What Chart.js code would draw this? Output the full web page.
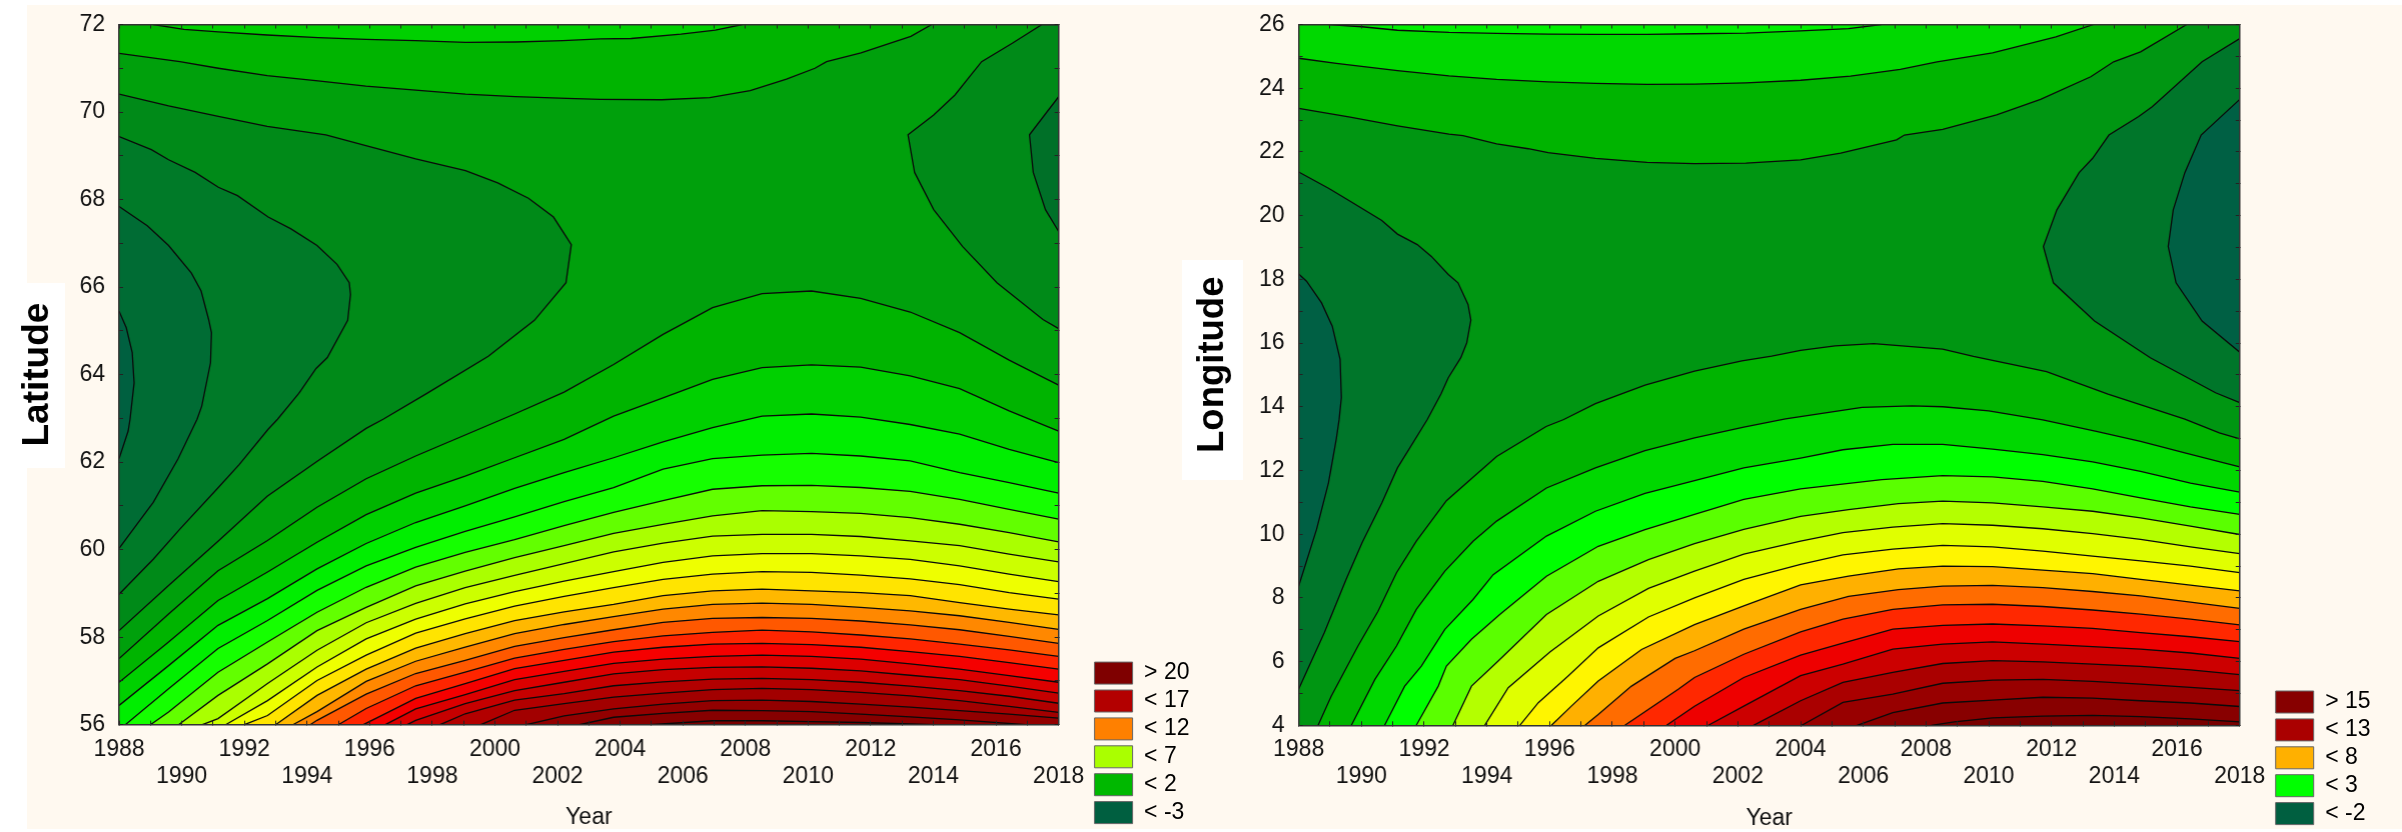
<!DOCTYPE html>
<html>
<head>
<meta charset="utf-8">
<title>Latitude and longitude contour plots</title>
<script src="https://cdn.jsdelivr.net/npm/chart.js@4"></script>
<style>
    body { margin: 0; background: #fff; overflow: hidden; }
    #sheet { position: absolute; left: 27px; top: 5px; width: 2375px; height: 824px; background: #fff9f0; }
    .label-bg { position: absolute; background: #fff; }
    canvas { position: absolute; top: 0; }
</style>
</head>
<body>
<div id="sheet"></div>
<div class="label-bg" style="left:27px;top:283px;width:38px;height:185px"></div>
<div class="label-bg" style="left:1182px;top:260px;width:61px;height:220px"></div>
<canvas id="latChart" style="left:0"></canvas>
<canvas id="lonChart" style="left:1181px"></canvas>
<script>
// Contour lines, each one as [year, degrees]
const latTop1 = [[1988,71.34],[1989.94,71.15],[1991.17,71],[1992.73,70.83],[1994.35,70.71],[1995.88,70.59],[1997.47,70.5],[1999.06,70.41],[2000.65,70.35],[2002.3,70.31],[2003.37,70.29],[2005.33,70.28],[2006.86,70.33],[2008.15,70.49],[2009.31,70.75],[2010.22,71],[2010.59,71.15],[2011.69,71.35],[2013.28,71.73],[2013.95,72]];
const latTop2 = [[1989.09,72],[1990.07,71.89],[1991.17,71.83],[1992.73,71.76],[1994.35,71.7],[1995.88,71.66],[1997.47,71.63],[1999.06,71.59],[2000.65,71.6],[2002.17,71.63],[2003.37,71.67],[2004.35,71.68],[2005.94,71.78],[2007.04,71.87],[2007.9,72]];
const latBlobC = [[1988,70.41],[1989.58,70.14],[1991.17,69.9],[1992.73,69.67],[1994.6,69.48],[1995.88,69.23],[1997.47,68.93],[1999.06,68.66],[2000.09,68.38],[2001.07,68.03],[2001.87,67.6],[2002.44,66.97],[2002.27,66.1],[2001.26,65.24],[1999.79,64.42],[1997.83,63.57],[1996.43,62.98],[1995.89,62.77],[1994.35,62.03],[1992.73,61.22],[1991.17,60.2],[1989.58,59.18],[1988,58.15]];
const latBlobB = [[1988,69.44],[1989.03,69.14],[1989.58,68.91],[1990.43,68.62],[1991.17,68.28],[1991.78,68.09],[1992.76,67.6],[1993.49,67.33],[1994.32,66.95],[1994.96,66.52],[1995.35,66.1],[1995.39,65.83],[1995.3,65.24],[1994.65,64.39],[1994.29,64.14],[1993.74,63.57],[1993.06,62.98],[1992.76,62.75],[1991.84,61.95],[1991.17,61.42],[1989.94,60.47],[1989.09,59.78],[1988,58.98]];
const latBlobA = [[1988,67.84],[1988.9,67.4],[1989.58,66.95],[1990.31,66.32],[1990.62,65.91],[1990.86,65.26],[1990.95,64.96],[1990.92,64.27],[1990.64,63.28],[1990.49,62.98],[1989.88,62.07],[1989.09,61.08],[1988,60.03]];
const latBlobD = [[1988,65.45],[1988.23,65.07],[1988.42,64.5],[1988.48,63.81],[1988.35,62.98],[1988.29,62.71],[1988,62.08]];
const latEast1 = [[2018,72],[2017.47,72],[2016.52,71.57],[2015.54,71.15],[2014.69,70.39],[2014.01,69.93],[2013.19,69.48],[2013.4,68.62],[2014.01,67.77],[2014.93,66.93],[2016.03,66.1],[2017.5,65.26],[2018,65.05]];
const latEast2 = [[2018,70.35],[2017.07,69.48],[2017.19,68.62],[2017.58,67.77],[2018,67.27]];

const latLow01 = [[1988,57.51],[1989.58,58.53],[1991.16,59.52],[1992.74,60.21],[1994.32,60.97],[1995.89,61.62],[1997.47,62.14],[1999.05,62.62],[2000.63,63.1],[2002.21,63.6],[2003.79,64.23],[2005.37,64.92],[2006.95,65.53],[2008.53,65.85],[2010.11,65.91],[2011.68,65.74],[2013.26,65.43],[2014.84,64.96],[2016.42,64.33],[2018,63.76]];
const latLow02 = [[1988,56.97],[1989.58,57.89],[1991.16,58.84],[1992.74,59.49],[1994.32,60.17],[1995.89,60.8],[1997.47,61.29],[1999.05,61.68],[2000.63,62.1],[2002.21,62.52],[2003.79,63.05],[2005.37,63.47],[2006.95,63.89],[2008.53,64.16],[2010.11,64.22],[2011.68,64.17],[2013.26,63.97],[2014.84,63.68],[2016.42,63.17],[2018,62.71]];
const latLow03 = [[1988,56.44],[1989.58,57.35],[1991.16,58.27],[1992.74,58.88],[1994.32,59.56],[1995.89,60.14],[1997.47,60.62],[1999.05,61],[2000.63,61.4],[2002.21,61.76],[2003.79,62.1],[2005.37,62.46],[2006.95,62.79],[2008.53,63.05],[2010.11,63.1],[2011.68,63.03],[2013.26,62.86],[2014.84,62.64],[2016.42,62.29],[2018,61.99]];
const latLow04 = [[1988.2,56],[1989.58,56.82],[1991.16,57.74],[1992.74,58.38],[1994.32,59.07],[1995.89,59.63],[1997.47,60.05],[1999.05,60.42],[2000.63,60.75],[2002.21,61.1],[2003.79,61.42],[2005.37,61.84],[2006.95,62.08],[2008.53,62.16],[2010.11,62.2],[2011.68,62.14],[2013.26,62.03],[2014.84,61.76],[2016.42,61.53],[2018,61.29]];
const latLow05 = [[1989,56],[1989.58,56.29],[1991.16,57.2],[1992.74,57.89],[1994.32,58.57],[1995.89,59.14],[1997.47,59.6],[1999.05,59.94],[2000.63,60.23],[2002.21,60.55],[2003.79,60.85],[2005.37,61.12],[2006.95,61.38],[2008.53,61.46],[2010.11,61.47],[2011.68,61.42],[2013.26,61.33],[2014.84,61.15],[2016.42,60.92],[2018,60.7]];
const latLow06 = [[1989.9,56],[1991.16,56.67],[1992.74,57.39],[1994.32,58.15],[1995.89,58.68],[1997.47,59.17],[1999.05,59.51],[2000.63,59.82],[2002.21,60.09],[2003.79,60.37],[2005.37,60.58],[2006.95,60.77],[2008.53,60.89],[2010.11,60.87],[2011.68,60.83],[2013.26,60.73],[2014.84,60.58],[2016.42,60.39],[2018,60.18]];
const latLow07 = [[1990.66,56],[1991.16,56.14],[1992.74,56.94],[1994.32,57.7],[1995.89,58.33],[1997.47,58.77],[1999.05,59.13],[2000.63,59.41],[2002.21,59.68],[2003.79,59.95],[2005.37,60.15],[2006.95,60.31],[2008.53,60.35],[2010.11,60.35],[2011.68,60.3],[2013.26,60.2],[2014.84,60.09],[2016.42,59.9],[2018,59.72]];
const latLow08 = [[1991.4,56],[1992.74,56.55],[1994.32,57.32],[1995.89,57.96],[1997.47,58.41],[1999.05,58.76],[2000.63,59.04],[2002.21,59.28],[2003.79,59.5],[2005.37,59.71],[2006.95,59.86],[2008.53,59.91],[2010.11,59.91],[2011.68,59.86],[2013.26,59.78],[2014.84,59.63],[2016.42,59.44],[2018,59.27]];
const latLow09 = [[1992,56],[1992.74,56.21],[1994.32,57.01],[1995.89,57.59],[1997.47,58.09],[1999.05,58.42],[2000.63,58.71],[2002.21,58.93],[2003.79,59.13],[2005.37,59.32],[2006.95,59.44],[2008.53,59.5],[2010.11,59.48],[2011.68,59.42],[2013.26,59.33],[2014.84,59.2],[2016.42,59.02],[2018,58.87]];
const latLow10 = [[1993,56],[1994.32,56.67],[1995.89,57.27],[1997.47,57.75],[1999.05,58.08],[2000.63,58.38],[2002.21,58.58],[2003.79,58.75],[2005.37,58.95],[2006.95,59.06],[2008.53,59.1],[2010.11,59.06],[2011.68,59.02],[2013.26,58.95],[2014.84,58.79],[2016.42,58.64],[2018,58.51]];
const latLow11 = [[1993.55,56],[1994.32,56.3],[1995.89,56.99],[1997.47,57.45],[1999.05,57.77],[2000.63,58.08],[2002.21,58.29],[2003.79,58.47],[2005.37,58.64],[2006.95,58.75],[2008.53,58.78],[2010.11,58.75],[2011.68,58.68],[2013.26,58.6],[2014.84,58.49],[2016.42,58.34],[2018,58.18]];
const latLow12 = [[1994.1,56],[1994.32,56.1],[1995.89,56.7],[1997.47,57.17],[1999.05,57.47],[2000.63,57.79],[2002.21,57.99],[2003.79,58.17],[2005.37,58.34],[2006.95,58.43],[2008.53,58.45],[2010.11,58.43],[2011.68,58.37],[2013.26,58.28],[2014.84,58.17],[2016.42,58.02],[2018,57.86]];
const latLow13 = [[1995,56],[1995.89,56.37],[1997.47,56.89],[1999.05,57.2],[2000.63,57.52],[2002.21,57.72],[2003.79,57.9],[2005.37,58.03],[2006.95,58.11],[2008.53,58.16],[2010.11,58.12],[2011.68,58.05],[2013.26,57.96],[2014.84,57.84],[2016.42,57.71],[2018,57.56]];
const latLow14 = [[1995.8,56],[1997.47,56.6],[1999.05,56.94],[2000.63,57.28],[2002.21,57.47],[2003.79,57.66],[2005.37,57.77],[2006.95,57.84],[2008.53,57.86],[2010.11,57.83],[2011.68,57.77],[2013.26,57.67],[2014.84,57.56],[2016.42,57.42],[2018,57.27]];
const latLow15 = [[1996.5,56],[1997.47,56.36],[1999.05,56.69],[2000.63,57.03],[2002.21,57.22],[2003.79,57.4],[2005.37,57.5],[2006.95,57.56],[2008.53,57.59],[2010.11,57.56],[2011.68,57.5],[2013.26,57.39],[2014.84,57.27],[2016.42,57.12],[2018,56.97]];
const latLow16 = [[1997.2,56],[1997.47,56.1],[1999.05,56.48],[2000.63,56.78],[2002.21,56.97],[2003.79,57.16],[2005.37,57.26],[2006.95,57.31],[2008.53,57.32],[2010.11,57.29],[2011.68,57.23],[2013.26,57.13],[2014.84,57.03],[2016.42,56.88],[2018,56.72]];
const latLow17 = [[1998.25,56],[1999.05,56.25],[2000.63,56.56],[2002.21,56.71],[2003.79,56.89],[2005.37,56.98],[2006.95,57.04],[2008.53,57.06],[2010.11,57.03],[2011.68,56.97],[2013.26,56.88],[2014.84,56.78],[2016.42,56.65],[2018,56.49]];
const latLow18 = [[1999.55,56],[2000.63,56.33],[2002.21,56.48],[2003.79,56.63],[2005.37,56.72],[2006.95,56.8],[2008.53,56.83],[2010.11,56.8],[2011.68,56.74],[2013.26,56.66],[2014.84,56.55],[2016.42,56.42],[2018,56.28]];
const latLow19 = [[2001,56],[2002.21,56.2],[2003.79,56.36],[2005.37,56.47],[2006.95,56.55],[2008.53,56.56],[2010.11,56.53],[2011.68,56.47],[2013.26,56.4],[2014.84,56.32],[2016.42,56.24],[2018,56.15]];
const latLow20 = [[2002.7,56],[2003.79,56.17],[2005.37,56.26],[2006.95,56.33],[2008.53,56.32],[2010.11,56.3],[2011.68,56.24],[2013.26,56.18],[2014.84,56.11],[2016.95,56]];
const latLow21 = [[2004.96,56],[2006.95,56.09],[2008.53,56.09],[2010.11,56.07],[2011.68,56.05],[2013.26,56.02],[2014,56]];

const lonTop1 = [[1988,23.37],[1989.64,23.09],[1991.15,22.82],[1992.79,22.56],[1993.24,22.51],[1994.31,22.25],[1995.32,22.1],[1995.95,21.98],[1997.46,21.8],[1999.1,21.67],[2000.62,21.63],[2002.26,21.65],[2004,21.75],[2005.28,21.96],[2007.06,22.38],[2007.31,22.53],[2008.53,22.71],[2010.25,23.16],[2011.65,23.65],[2013.25,24.36],[2013.98,24.83],[2014.84,25.14],[2016.31,26]];
const lonTop2 = [[1988,24.94],[1989.2,24.78],[1991.15,24.55],[1992.79,24.39],[1994.31,24.28],[1995.95,24.2],[1997.46,24.15],[1999.1,24.12],[2000.62,24.13],[2002.26,24.17],[2004,24.25],[2005.59,24.38],[2007.18,24.59],[2008.35,24.83],[2010.12,25.11],[2012.14,25.61],[2013.34,26]];
const lonTop3 = [[1988.95,26],[1990.02,25.93],[1991.15,25.82],[1992.79,25.75],[1994.31,25.72],[1995.95,25.7],[1997.46,25.69],[1999.1,25.69],[2000.62,25.71],[2002.26,25.73],[2004,25.8],[2005.53,25.87],[2006.57,26]];
const lonBlobA = [[1988,21.37],[1988.95,20.86],[1989.64,20.45],[1990.65,19.85],[1991.15,19.42],[1991.78,19.09],[1992.23,18.72],[1992.77,18.15],[1993.08,17.89],[1993.4,17.21],[1993.49,16.72],[1993.36,16.01],[1993.17,15.54],[1992.77,14.91],[1992.54,14.41],[1992.1,13.6],[1991.15,12.08],[1990.65,10.98],[1990.02,9.73],[1989.51,8.58],[1988.82,6.91],[1988,5.14]];
const lonBlobB = [[1988,18.17],[1988.25,17.94],[1988.73,17.26],[1989.07,16.53],[1989.32,15.49],[1989.36,14.29],[1989.29,13.61],[1989.2,13],[1988.95,11.61],[1988.57,10.15],[1988,8.37]];
const lonEast1 = [[2018,25.56],[2016.8,24.83],[2015.21,23.42],[2014.78,23.11],[2013.83,22.53],[2013.31,21.8],[2012.88,21.35],[2012.17,20.18],[2011.74,19.03],[2012.06,17.89],[2013.37,16.69],[2015.15,15.54],[2017.23,14.44],[2018,14.13]];
const lonEast2 = [[2018,23.65],[2016.77,22.53],[2016.25,21.35],[2015.88,20.18],[2015.72,19.03],[2015.97,17.89],[2016.8,16.69],[2018,15.71]];

const lonLow01 = [[1988.62,4],[1989.04,4.92],[1989.89,6.49],[1990.53,7.58],[1991.12,8.79],[1991.75,9.78],[1992.71,11.05],[1994.31,12.44],[1995.89,13.38],[1996.45,13.6],[1997.46,14.1],[1999.04,14.68],[2000.62,15.12],[2002.13,15.44],[2003.08,15.59],[2004,15.77],[2005.1,15.91],[2006.33,15.98],[2008.53,15.81],[2009.51,15.58],[2011.84,15.1],[2013.8,14.4],[2016.25,13.61],[2017.35,13.18],[2018,12.99]];
const lonLow02 = [[1989.68,4],[1990.43,5.44],[1991.12,6.49],[1991.75,7.64],[1992.66,8.84],[1993.56,9.78],[1994.31,10.41],[1995.9,11.45],[1997.46,12.08],[1999.04,12.62],[2000.62,13.02],[2002.19,13.36],[2003.52,13.62],[2005.96,13.98],[2007.55,14.03],[2008.53,14],[2010,13.87],[2011.72,13.59],[2013.43,13.23],[2014.84,12.91],[2016.25,12.55],[2018,12.11]];
const lonLow03 = [[1990.74,4],[1991.38,5.23],[1991.91,5.86],[1992.66,7.01],[1993.56,7.95],[1994.2,8.73],[1995.9,9.94],[1997.46,10.72],[1999.04,11.28],[2000.62,11.68],[2002.19,12.08],[2004,12.39],[2005.35,12.65],[2006.94,12.82],[2008.53,12.82],[2010.12,12.67],[2011.72,12.5],[2013.31,12.27],[2014.84,11.97],[2016.43,11.6],[2018,11.32]];
const lonLow04 = [[1991.75,4],[1992.45,5.23],[1992.71,5.86],[1993.51,6.7],[1994.41,7.48],[1995.9,8.68],[1997.55,9.62],[1999.04,10.14],[2000.62,10.62],[2002.19,11.09],[2004,11.42],[2006.59,11.71],[2008.53,11.84],[2010.12,11.8],[2011.72,11.66],[2013.31,11.42],[2014.84,11.14],[2016.43,10.86],[2018,10.62]];
const lonLow05 = [[1992.92,4],[1993.51,5.23],[1994.36,6.02],[1995.9,7.48],[1997.55,8.52],[1999.15,9.2],[2000.62,9.7],[2002.19,10.15],[2004,10.56],[2005.53,10.77],[2007.12,10.96],[2008.53,11.04],[2010.12,10.98],[2011.72,10.86],[2013.31,10.72],[2014.84,10.51],[2016.43,10.25],[2018,9.99]];
const lonLow06 = [[1993.93,4],[1994.68,5.18],[1996.01,6.3],[1997.55,7.43],[1999.15,8.3],[2000.62,8.84],[2002.19,9.37],[2004,9.78],[2005.35,10.05],[2006.94,10.22],[2008.53,10.33],[2010.12,10.28],[2011.72,10.17],[2013.31,10.02],[2014.84,9.84],[2016.43,9.6],[2018,9.39]];
const lonLow07 = [[1995.05,4],[1995.64,4.71],[1996.59,5.55],[1997.55,6.43],[1999.15,7.4],[2000.62,8],[2002.19,8.58],[2004,9.05],[2005.35,9.35],[2006.94,9.53],[2008.53,9.65],[2010.12,9.6],[2011.72,9.47],[2013.31,9.31],[2014.84,9.16],[2016.43,9],[2018,8.79]];
const lonLow08 = [[1996.06,4],[1996.7,4.61],[1997.55,5.39],[1998.93,6.38],[2000.62,7.16],[2002.19,7.75],[2004,8.41],[2005.53,8.68],[2007.12,8.91],[2008.53,9],[2010.12,8.98],[2011.72,8.87],[2013.31,8.76],[2014.84,8.58],[2016.43,8.4],[2018,8.22]];
const lonLow09 = [[1997.13,4],[1997.55,4.34],[1998.61,5.23],[2000,6.1],[2000.62,6.34],[2002.19,7.02],[2004,7.64],[2005.53,8.05],[2007.12,8.26],[2008.53,8.37],[2010.12,8.39],[2011.72,8.32],[2013.31,8.2],[2014.84,8.06],[2016.43,7.87],[2018,7.67]];
const lonLow10 = [[1998.4,4],[2000.1,5.13],[2000.62,5.5],[2002.19,6.23],[2004,6.93],[2005.35,7.33],[2006.94,7.64],[2008.53,7.78],[2010.12,7.8],[2011.72,7.73],[2013.31,7.62],[2014.84,7.49],[2016.43,7.33],[2018,7.15]];
const lonLow11 = [[1999.73,4],[2000.62,4.6],[2002.19,5.5],[2004,6.2],[2005.35,6.58],[2006.94,7.02],[2008.53,7.14],[2010.12,7.18],[2011.72,7.12],[2013.31,7.04],[2014.84,6.91],[2016.43,6.78],[2018,6.63]];
const lonLow12 = [[2001.06,4],[2002.19,4.6],[2004,5.56],[2005.35,5.92],[2006.94,6.39],[2008.53,6.55],[2010.12,6.62],[2011.72,6.55],[2013.31,6.47],[2014.84,6.39],[2016.43,6.27],[2018,6.1]];
const lonLow13 = [[2002.5,4],[2004,4.77],[2005.35,5.35],[2006.94,5.66],[2008.53,5.94],[2010.12,6.03],[2011.72,5.99],[2013.31,5.92],[2014.84,5.85],[2016.43,5.74],[2018,5.59]];
const lonLow14 = [[2004.04,4],[2005.35,4.72],[2006.94,4.98],[2008.53,5.32],[2010.12,5.42],[2011.72,5.44],[2013.31,5.38],[2014.84,5.29],[2016.43,5.19],[2018,5.09]];
const lonLow15 = [[2005.8,4],[2006.94,4.4],[2008.53,4.7],[2010.12,4.79],[2011.72,4.88],[2013.31,4.85],[2014.84,4.77],[2016.43,4.7],[2018,4.59]];
const lonLow16 = [[2008.17,4],[2008.9,4.11],[2010.12,4.23],[2011.72,4.29],[2013.31,4.31],[2014.84,4.27],[2016.43,4.2],[2018,4.11]];

const latLegendLabels = ['> 20', '< 17', '< 12', '< 7', '< 2', '< -3'];
const latLegendColors = ['#7f0000', '#b30000', '#ff8000', '#aaff00', '#00b800', '#005f40'];
const lonLegendLabels = ['> 15', '< 13', '< 8', '< 3', '< -2'];
const lonLegendColors = ['#870000', '#aa0000', '#ffb000', '#00ff00', '#005f40'];

const latLowLines = [latLow01, latLow02, latLow03, latLow04, latLow05, latLow06, latLow07, latLow08, latLow09, latLow10, latLow11, latLow12, latLow13, latLow14, latLow15, latLow16, latLow17, latLow18, latLow19, latLow20, latLow21];
const latLowColors = ['#00b400', '#00d000', '#00ee00', '#15ff00', '#62ff00', '#aaff00', '#ccff00', '#eeff00', '#ffe400', '#ffb800', '#ff8800', '#ff5800', '#ff2500', '#f50000', '#dc0000', '#c60000', '#b20000', '#a20000', '#920000', '#860000', '#7a0000'];
const lonLowLines = [lonLow01, lonLow02, lonLow03, lonLow04, lonLow05, lonLow06, lonLow07, lonLow08, lonLow09, lonLow10, lonLow11, lonLow12, lonLow13, lonLow14, lonLow15, lonLow16];
const lonLowColors = ['#00b400', '#00d800', '#00ff00', '#5aff00', '#b4ff00', '#e0ff00', '#fff500', '#ffb000', '#ff6c00', '#ff2800', '#ee0000', '#cc0000', '#aa0000', '#980000', '#880000', '#780000'];

Chart.defaults.font.family = '"Liberation Sans", Arial, sans-serif';
Chart.defaults.color = '#111';

// one contour: a black line plus the colour on its far side
function contour(points, color, fill) {
    return {
        data: points.map(p => ({ x: p[0], y: p[1] })),
        showLine: true,
        pointRadius: 0,
        borderColor: '#0a0a0a',
        borderWidth: 1.3,
        backgroundColor: color,
        fill: fill
    };
}

// inward tick marks, drawn over the colour
function tickGrid() {
    return { drawOnChartArea: false, tickLength: -4, color: '#222', z: 1 };
}

function makePanel(cfg) {
    const lines = [];
    cfg.lowLines.forEach((l, i) => lines.push(contour(l, cfg.lowColors[i], { target: { value: cfg.min } })));
    cfg.topLines.forEach((l, i) => lines.push(contour(l, cfg.topColors[i], { target: { value: cfg.max } })));
    cfg.blobs.forEach((l, i) => lines.push(contour(l, cfg.blobColors[i], 'shape')));
    // later bands have to paint over earlier ones
    lines.forEach((d, i) => { d.order = lines.length - i; });

    const canvas = document.getElementById(cfg.id);
    canvas.width = cfg.width;
    canvas.height = cfg.height;

    const chart = new Chart(canvas, {
        type: 'scatter',
        data: { datasets: lines },
        plugins: [{
            id: 'plotBase',
            beforeDatasetsDraw(c) {
                const a = c.chartArea;
                c.ctx.save();
                c.ctx.fillStyle = cfg.baseColor;
                c.ctx.fillRect(a.left, a.top, a.right - a.left, a.bottom - a.top);
                c.ctx.restore();
            }
        }],
        options: {
            responsive: false,
            animation: false,
            events: [],
            layout: { autoPadding: false },
            plugins: {
                tooltip: { enabled: false },
                legend: {
                    position: 'right',
                    align: 'end',
                    labels: {
                        boxWidth: 38,
                        boxHeight: 22,
                        padding: 4.9,
                        color: '#111',
                        font: { size: 23 },
                        generateLabels: () => cfg.legendLabels.map((t, i) => ({
                            text: t, fillStyle: cfg.legendColors[i], strokeStyle: '#666', lineWidth: 1, hidden: false
                        }))
                    }
                }
            },
            scales: {
                x: {
                    type: 'linear', min: 1988, max: 2018,
                    afterFit: s => { s.height = cfg.height - cfg.plotBottom; },
                    grid: tickGrid(),
                    border: { color: '#333', width: 1.5, z: 1 },
                    title: { display: true, text: 'Year', color: '#111', padding: 0, font: { size: 23, lineHeight: 1 } },
                    ticks: {
                        stepSize: 1, autoSkip: false, maxRotation: 0, padding: 15,
                        font: { size: 23, lineHeight: '27px' }, color: '#111',
                        // two staggered rows of year labels
                        callback: v => v % 4 === 0 ? String(v) : (v % 2 === 0 ? ['', String(v)] : '')
                    }
                },
                x2: {
                    type: 'linear', position: 'top', min: 1988, max: 2018,
                    afterFit: s => { s.height = cfg.plotTop; },
                    grid: tickGrid(),
                    border: { color: '#333', width: 1.5, z: 1 },
                    ticks: { stepSize: 1, autoSkip: false, display: false }
                },
                y: {
                    type: 'linear', min: cfg.min, max: cfg.max,
                    // no extra room above for the top label, the plot edge is set by x2
                    afterFit: s => { s.width = cfg.plotLeft; s.paddingTop = 0; s.paddingBottom = 0; },
                    grid: tickGrid(),
                    border: { color: '#333', width: 1.5, z: 1 },
                    title: { display: true, text: cfg.yTitle, color: '#000', padding: { top: cfg.yTitlePad, bottom: 0 }, font: { size: cfg.yTitleSize, weight: 'bold' } },
                    ticks: {
                        stepSize: 1, autoSkip: false, padding: 18,
                        font: { size: 23 }, color: '#111',
                        callback: v => v % 2 === 0 ? String(v) : ''
                    }
                },
                y2: {
                    type: 'linear', position: 'right', min: cfg.min, max: cfg.max,
                    afterFit: s => { s.width = 31; },
                    grid: tickGrid(),
                    border: { color: '#333', width: 1.5, z: 1 },
                    ticks: { stepSize: 1, autoSkip: false, display: false }
                }
            }
        }
    });

    // legend width depends on its text, so fix the plot edge afterwards
    chart.resize(cfg.width + cfg.plotRight - chart.chartArea.right, cfg.height);
    return chart;
}

makePanel({
    id: 'latChart', width: 1200, height: 830,
    plotLeft: 119, plotRight: 1057.7, plotTop: 24.5, plotBottom: 725.7,
    min: 56, max: 72, yTitle: 'Latitude', yTitleSize: 37, yTitlePad: 16, baseColor: '#00a00c',
    lowLines: latLowLines, lowColors: latLowColors,
    topLines: [latTop1, latTop2], topColors: ['#00b400', '#00d000'],
    blobs: [latBlobC, latBlobB, latBlobA, latBlobD, latEast1, latEast2],
    blobColors: ['#008a18', '#007a28', '#006c34', '#006040', '#008a18', '#007028'],
    legendLabels: latLegendLabels, legendColors: latLegendColors
});

makePanel({
    id: 'lonChart', width: 1200, height: 831,
    plotLeft: 117.6, plotRight: 1057.8, plotTop: 24.5, plotBottom: 726.3,
    min: 4, max: 26, yTitle: '  Longitude', yTitleSize: 36.5, yTitlePad: 10, baseColor: '#009612',
    lowLines: lonLowLines, lowColors: lonLowColors,
    topLines: [lonTop1, lonTop2, lonTop3], topColors: ['#00b400', '#00d800', '#00f000'],
    blobs: [lonBlobA, lonBlobB, lonEast1, lonEast2],
    blobColors: ['#00762a', '#006044', '#00762a', '#006044'],
    legendLabels: lonLegendLabels, legendColors: lonLegendColors
});
</script>
</body>
</html>
